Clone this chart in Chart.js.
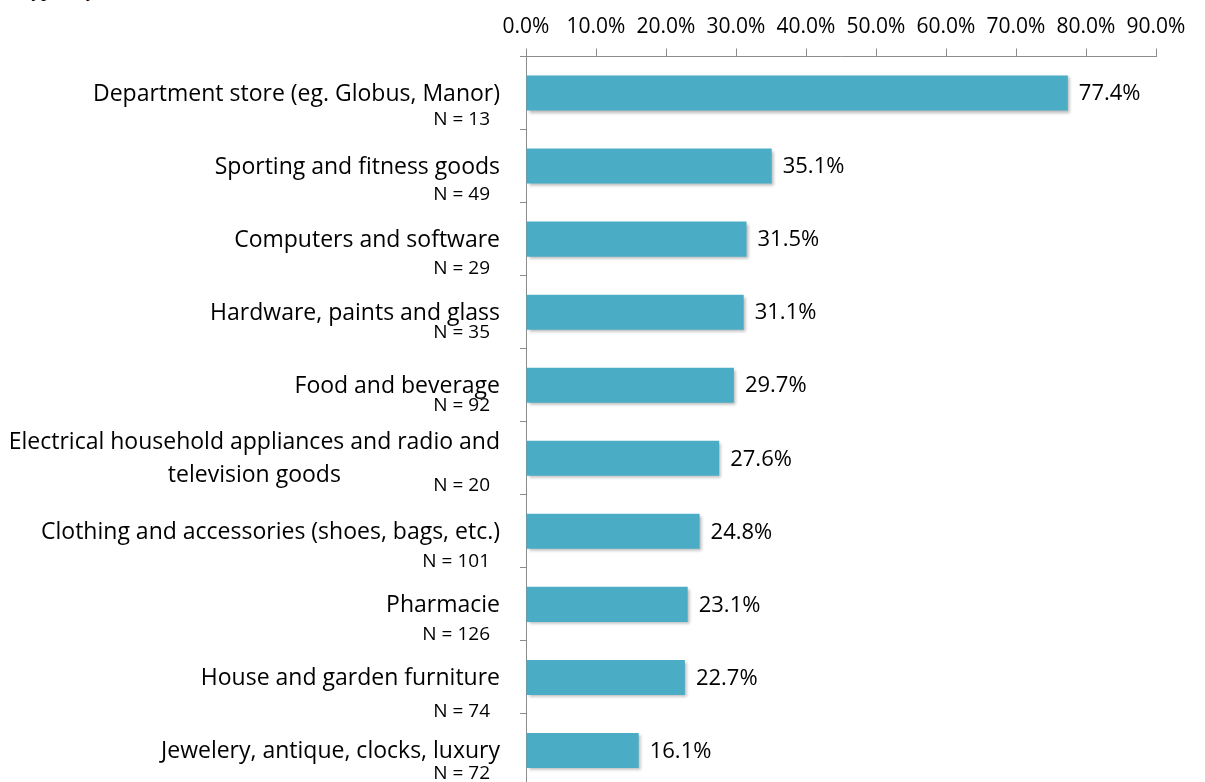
<!DOCTYPE html>
<html>
<head>
<meta charset="utf-8">
<script src="https://cdn.jsdelivr.net/npm/chart.js@4.4.1/dist/chart.umd.min.js"></script>
<style>
  html, body { margin: 0; padding: 0; background: #ffffff; }
  #wrap { position: relative; width: 1205px; height: 782px; overflow: hidden; background: #fff; }
  #chart { position: absolute; left: 0; top: 0; }
  #caption { position: absolute; left: 28px; top: -22px; font: italic 20px "Liberation Serif", serif; color: #000; white-space: nowrap; }
</style>
</head>
<body>
<div id="wrap">
  <div id="caption">typically</div>
  <canvas id="chart" width="1205" height="800"></canvas>
</div>
<script>
// Retail categories (top to bottom), sample size per category, share in percent
const categories = [
  ["Department store (eg. Globus, Manor)"],
  ["Sporting and fitness goods"],
  ["Computers and software"],
  ["Hardware, paints and glass"],
  ["Food and beverage"],
  ["Electrical household appliances and radio and", "television goods"],
  ["Clothing and accessories (shoes, bags, etc.)"],
  ["Pharmacie"],
  ["House and garden furniture"],
  ["Jewelery, antique, clocks, luxury"]
];
const sampleSizes = [13, 49, 29, 35, 92, 20, 101, 126, 74, 72];
const shares = [77.4, 35.1, 31.5, 31.1, 29.7, 27.6, 24.8, 23.1, 22.7, 16.1];
const xTicks = [0, 10, 20, 30, 40, 50, 60, 70, 80, 90];

// vertical offset of each "N = .." line below its category centre
const nLineOffsets = [27, 29, 29, 20, 20, 27, 30, 30, 34, 23];

const FONT = '"Open Sans", "Liberation Sans", sans-serif';
const AXIS_GRAY = '#8c8c8c';

// soft drop shadow behind the bars
const barShadow = {
  id: 'barShadow',
  beforeDatasetsDraw(chart) {
    const ctx = chart.ctx;
    ctx.save();
    ctx.shadowColor = 'rgba(0,0,0,0.28)';
    ctx.shadowBlur = 3;
    ctx.shadowOffsetX = 2;
    ctx.shadowOffsetY = 2;
  },
  afterDatasetsDraw(chart) {
    chart.ctx.restore();
  }
};

// percentage printed just right of each bar
const valueLabels = {
  id: 'valueLabels',
  afterDatasetsDraw(chart) {
    const ctx = chart.ctx;
    const meta = chart.getDatasetMeta(0);
    ctx.save();
    ctx.font = '22px ' + FONT;
    ctx.fillStyle = '#000';
    ctx.textAlign = 'left';
    ctx.textBaseline = 'middle';
    meta.data.forEach((bar, i) => {
      const v = chart.data.datasets[0].data[i];
      ctx.fillText(v.toFixed(1) + '%', bar.x + 11, bar.y + 1);
    });
    ctx.restore();
  }
};

// category names and sample sizes to the left of the axis
const categoryLabels = {
  id: 'categoryLabels',
  afterDraw(chart) {
    const ctx = chart.ctx;
    const yScale = chart.scales.y;
    const right = yScale.right - 26;
    ctx.save();
    ctx.fillStyle = '#000';
    ctx.textBaseline = 'middle';
    categories.forEach((lines, i) => {
      const yc = yScale.getPixelForValue(i);
      ctx.font = '23px ' + FONT;
      const widths = lines.map(l => ctx.measureText(l).width);
      const blockW = Math.max(...widths);
      const lh = 33;
      const y0 = yc + 1 - (lines.length - 1) * lh / 2;
      ctx.textAlign = 'center';
      lines.forEach((l, k) => ctx.fillText(l, right - blockW / 2, y0 + k * lh));
      ctx.font = '19px ' + FONT;
      ctx.textAlign = 'right';
      ctx.fillText('N = ' + sampleSizes[i], right - 10, yc + nLineOffsets[i]);
    });
    ctx.restore();
  }
};

new Chart(document.getElementById('chart'), {
  type: 'bar',
  data: {
    labels: categories.map(c => c.join(' ')),
    datasets: [{
      data: shares,
      backgroundColor: '#4BACC6',
      borderWidth: 0,
      barPercentage: 0.48,
      categoryPercentage: 1.0
    }]
  },
  options: {
    indexAxis: 'y',
    responsive: false,
    animation: false,
    devicePixelRatio: 1,
    layout: { padding: { left: 0, right: 49, top: 0, bottom: 13 } },
    plugins: { legend: { display: false }, tooltip: { enabled: false } },
    scales: {
      x: {
        position: 'top',
        min: xTicks[0],
        max: xTicks[xTicks.length - 1],
        afterBuildTicks(scale) { scale.ticks = xTicks.map(v => ({ value: v })); },
        afterFit(scale) { scale.height = 56.5; },
        ticks: {
          callback: v => v.toFixed(1) + '%',
          font: { family: FONT, size: 21 },
          color: '#000',
          padding: 9,
          maxRotation: 0,
          autoSkip: false
        },
        grid: { drawOnChartArea: false, drawTicks: true, tickLength: 8, color: AXIS_GRAY, lineWidth: 1 },
        border: { display: true, color: AXIS_GRAY, width: 1 }
      },
      y: {
        afterFit(scale) { scale.width = 526; },
        ticks: { display: false },
        grid: { drawOnChartArea: false, drawTicks: true, tickLength: 6, color: AXIS_GRAY, lineWidth: 1, offset: true },
        border: { display: true, color: AXIS_GRAY, width: 1 }
      }
    }
  },
  plugins: [barShadow, valueLabels, categoryLabels]
});
</script>
</body>
</html>
